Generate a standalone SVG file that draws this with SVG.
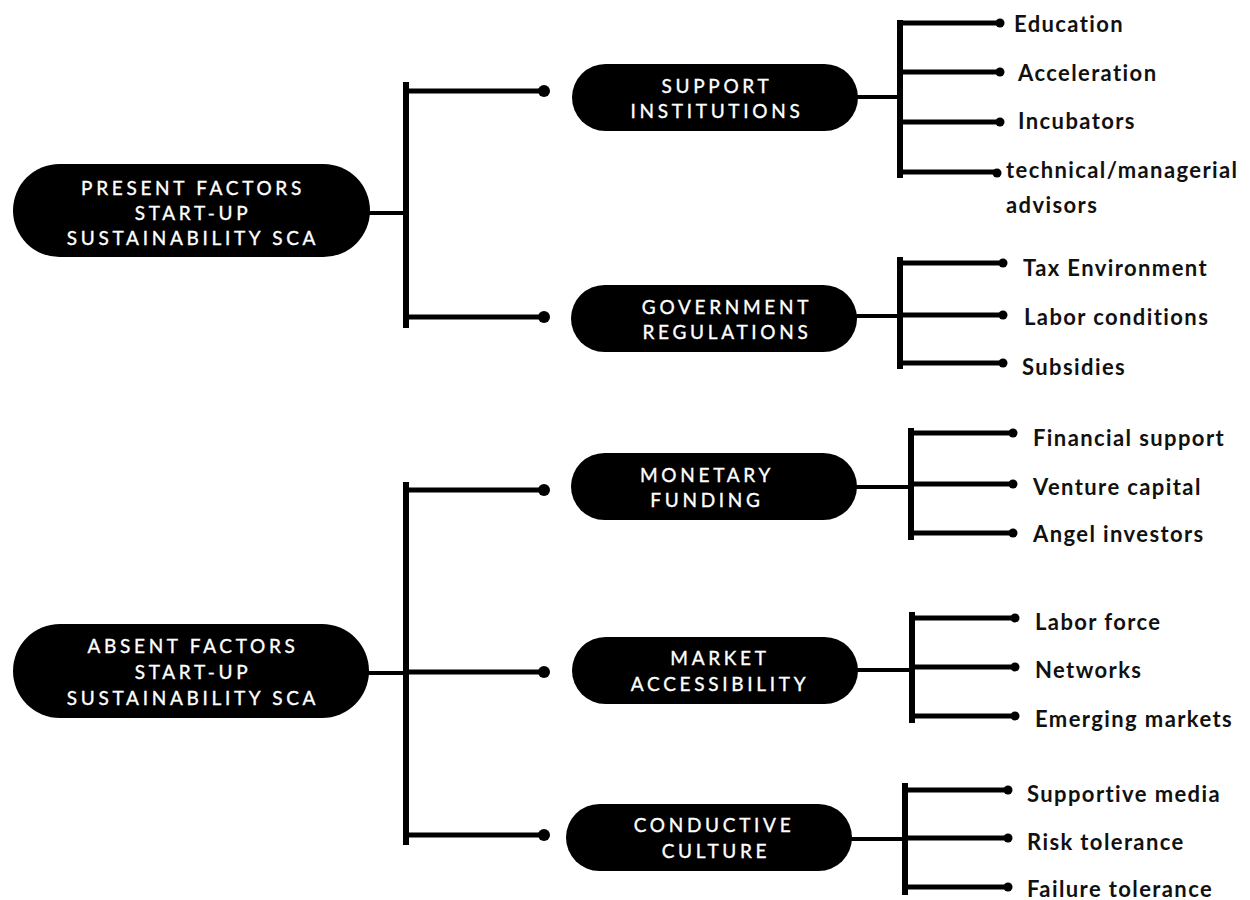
<svg xmlns="http://www.w3.org/2000/svg" width="1250" height="900" viewBox="0 0 1250 900">
<style>
.pill{fill:#000}
.pt{font-family:Lato,"Open Sans","Liberation Sans",sans-serif;font-size:19px;fill:#fff;stroke:#fff;stroke-width:0.35;letter-spacing:3.7px;text-anchor:middle}
.lt{font-family:Lato,"Open Sans","Liberation Sans",sans-serif;font-size:22px;font-weight:bold;fill:#111;letter-spacing:1.4px}
.c{stroke:#000;stroke-width:4;fill:none}
.b{stroke:#000;stroke-width:6;fill:none}
.br{stroke:#000;stroke-width:5;fill:none}
.d{fill:#000}
</style>
<rect width="1250" height="900" fill="#fff"/>
<g id="connectors">
<!-- present root -->
<line class="c" x1="368" y1="213" x2="406" y2="213"/>
<line class="b" x1="406" y1="82" x2="406" y2="328"/>
<line class="br" x1="406" y1="91" x2="544" y2="91"/>
<line class="br" x1="406" y1="317" x2="544" y2="317"/>
<circle class="d" cx="544" cy="91" r="6"/>
<circle class="d" cx="544" cy="317" r="6"/>
<!-- absent root -->
<line class="c" x1="367" y1="673" x2="406" y2="673"/>
<line class="b" x1="406" y1="482" x2="406" y2="845"/>
<line class="br" x1="406" y1="490" x2="544" y2="490"/>
<line class="br" x1="406" y1="672" x2="544" y2="672"/>
<line class="br" x1="406" y1="835" x2="544" y2="835"/>
<circle class="d" cx="544" cy="490" r="6"/>
<circle class="d" cx="544" cy="672" r="6"/>
<circle class="d" cx="544" cy="835" r="6"/>
<!-- support -->
<line class="c" x1="856" y1="97" x2="900" y2="97"/>
<line class="b" x1="900" y1="20" x2="900" y2="178"/>
<line class="br" x1="900" y1="23" x2="1000" y2="23"/>
<line class="br" x1="900" y1="72" x2="1000" y2="72"/>
<line class="br" x1="900" y1="122" x2="1000" y2="122"/>
<line class="br" x1="900" y1="172" x2="997" y2="172"/>
<circle class="d" cx="1000" cy="23" r="4.5"/>
<circle class="d" cx="1000" cy="72" r="4.5"/>
<circle class="d" cx="1000" cy="122" r="4.5"/>
<circle class="d" cx="997" cy="173" r="4.5"/>
<!-- government -->
<line class="c" x1="855" y1="316" x2="900" y2="316"/>
<line class="b" x1="900" y1="257" x2="900" y2="369"/>
<line class="br" x1="900" y1="263" x2="1003" y2="263"/>
<line class="br" x1="900" y1="315" x2="1003" y2="315"/>
<line class="br" x1="900" y1="363" x2="1003" y2="363"/>
<circle class="d" cx="1003" cy="263" r="4.5"/>
<circle class="d" cx="1003" cy="315" r="4.5"/>
<circle class="d" cx="1003" cy="363" r="4.5"/>
<!-- monetary -->
<line class="c" x1="855" y1="487" x2="911" y2="487"/>
<line class="b" x1="911" y1="428" x2="911" y2="540"/>
<line class="br" x1="911" y1="433" x2="1013" y2="433"/>
<line class="br" x1="911" y1="484" x2="1013" y2="484"/>
<line class="br" x1="911" y1="533" x2="1013" y2="533"/>
<circle class="d" cx="1013" cy="433" r="4.5"/>
<circle class="d" cx="1013" cy="484" r="4.5"/>
<circle class="d" cx="1013" cy="533" r="4.5"/>
<!-- market -->
<line class="c" x1="856" y1="670" x2="912" y2="670"/>
<line class="b" x1="912" y1="612" x2="912" y2="723"/>
<line class="br" x1="912" y1="618" x2="1015" y2="618"/>
<line class="br" x1="912" y1="667" x2="1015" y2="667"/>
<line class="br" x1="912" y1="716" x2="1015" y2="716"/>
<circle class="d" cx="1015" cy="618" r="4.5"/>
<circle class="d" cx="1015" cy="667" r="4.5"/>
<circle class="d" cx="1015" cy="716" r="4.5"/>
<!-- conductive -->
<line class="c" x1="850" y1="839" x2="905" y2="839"/>
<line class="b" x1="905" y1="783" x2="905" y2="895"/>
<line class="br" x1="905" y1="790" x2="1008" y2="790"/>
<line class="br" x1="905" y1="838" x2="1008" y2="838"/>
<line class="br" x1="905" y1="887" x2="1008" y2="887"/>
<circle class="d" cx="1008" cy="790" r="4.5"/>
<circle class="d" cx="1008" cy="838" r="4.5"/>
<circle class="d" cx="1008" cy="887" r="4.5"/>
</g>
<g id="present">
<rect class="pill" x="13" y="164" width="357" height="93" rx="46.5"/>
<text class="pt" x="193" y="195">PRESENT FACTORS</text>
<text class="pt" x="193" y="220">START-UP</text>
<text class="pt" x="193" y="245">SUSTAINABILITY SCA</text>
</g>
<g id="absent">
<rect class="pill" x="13" y="624" width="356" height="94" rx="47"/>
<text class="pt" x="193" y="653">ABSENT FACTORS</text>
<text class="pt" x="193" y="679">START-UP</text>
<text class="pt" x="193" y="705">SUSTAINABILITY SCA</text>
</g>
<g id="support">
<rect class="pill" x="572" y="64" width="286" height="67" rx="33.5"/>
<text class="pt" x="717" y="93">SUPPORT</text>
<text class="pt" x="717" y="118">INSTITUTIONS</text>
</g>
<g id="government">
<rect class="pill" x="571" y="285" width="286" height="67" rx="33.5"/>
<text class="pt" x="727" y="314">GOVERNMENT</text>
<text class="pt" x="727" y="339">REGULATIONS</text>
</g>
<g id="monetary">
<rect class="pill" x="571" y="453" width="286" height="67" rx="33.5"/>
<text class="pt" x="707" y="482">MONETARY</text>
<text class="pt" x="707" y="507">FUNDING</text>
</g>
<g id="market">
<rect class="pill" x="572" y="637" width="286" height="67" rx="33.5"/>
<text class="pt" x="720" y="665">MARKET</text>
<text class="pt" x="720" y="691">ACCESSIBILITY</text>
</g>
<g id="conductive">
<rect class="pill" x="566" y="804" width="286" height="67" rx="33.5"/>
<text class="pt" x="714" y="832">CONDUCTIVE</text>
<text class="pt" x="716" y="858">CULTURE</text>
</g>
<g id="leaves">
<text class="lt" x="1014" y="32">Education</text>
<text class="lt" x="1018" y="81">Acceleration</text>
<text class="lt" x="1018" y="129">Incubators</text>
<text class="lt" x="1006" y="178">technical/managerial</text>
<text class="lt" x="1006" y="213">advisors</text>
<text class="lt" x="1023" y="276">Tax Environment</text>
<text class="lt" x="1024" y="325">Labor conditions</text>
<text class="lt" x="1022" y="375">Subsidies</text>
<text class="lt" x="1033" y="446">Financial support</text>
<text class="lt" x="1033" y="495">Venture capital</text>
<text class="lt" x="1033" y="542">Angel investors</text>
<text class="lt" x="1035" y="630">Labor force</text>
<text class="lt" x="1035" y="678">Networks</text>
<text class="lt" x="1035" y="727">Emerging markets</text>
<text class="lt" x="1027" y="802">Supportive media</text>
<text class="lt" x="1027" y="850">Risk tolerance</text>
<text class="lt" x="1027" y="897">Failure tolerance</text>
</g>
</svg>
